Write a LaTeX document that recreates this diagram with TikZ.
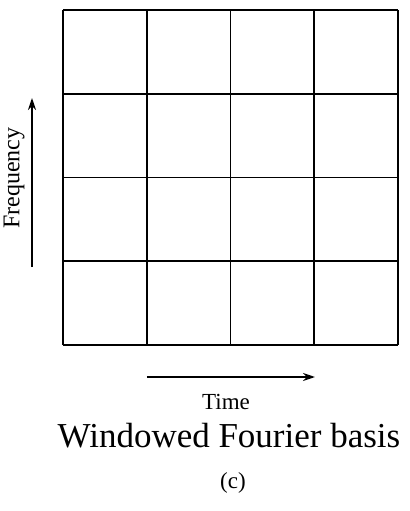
\documentclass[tikz,border=0pt]{standalone}
\usepackage{fontspec}
\setmainfont{Liberation Serif}
\usetikzlibrary{arrows.meta,positioning}

\begin{document}
\begin{tikzpicture}[x=0.5pt,y=0.5pt,
gridline/.style={line width=0.9pt},
axisarrow/.style={line width=0.7pt,-{Stealth[length=6pt,width=4pt]}}]
\useasboundingbox (0,0) rectangle (410,511);
% the 4x4 tiling of the time-frequency plane
\foreach \i in {0,...,4}{
\draw[gridline] (63+\i*83.75,166)--(63+\i*83.75,501);
\draw[gridline] (63,166+\i*83.75)--(398,166+\i*83.75);
}
\coordinate (f0) at (32,244);
\coordinate (f1) at (32,413);
\coordinate (t0) at (147,134);
\coordinate (t1) at (315,134);
\draw[axisarrow] (f0)--(f1);
\draw[axisarrow] (t0)--(t1);
\node[rotate=90,font=\fontsize{12}{14}\selectfont] (freq) at (14,333) {Frequency};
\node[anchor=base,font=\fontsize{11.5}{14}\selectfont] (time) at (226,102) {Time};
\node[anchor=base,font=\fontsize{17.5}{20}\selectfont] (title) at (229,64) {Windowed Fourier basis};
\node[font=\fontsize{11.5}{14}\selectfont] (lab) at (233,28) {(c)};
\end{tikzpicture}
\end{document}
